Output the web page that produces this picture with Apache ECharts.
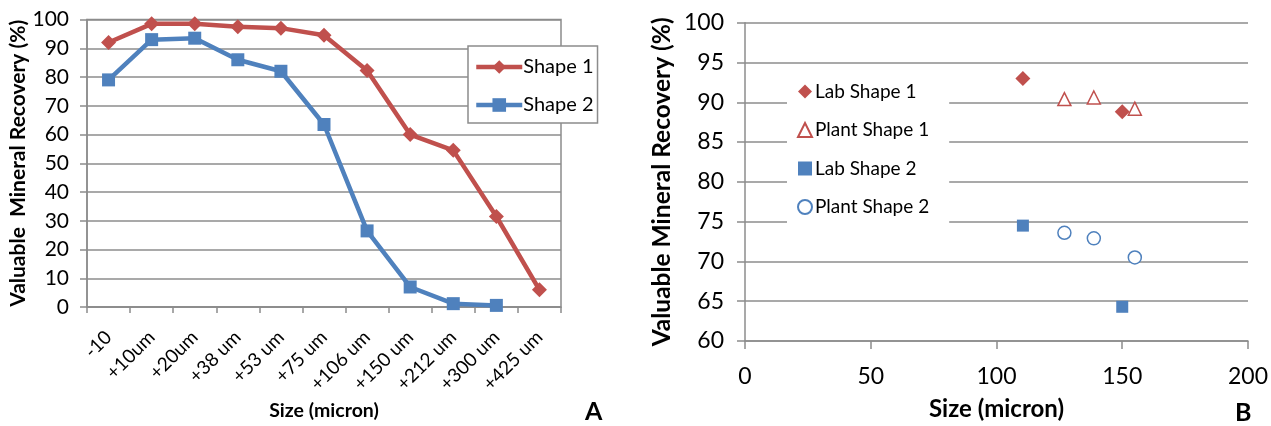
<!DOCTYPE html>
<html>
<head>
<meta charset="utf-8">
<script src="https://cdn.jsdelivr.net/npm/echarts@6/dist/echarts.min.js"></script>
<style>
html,body{margin:0;padding:0;background:#fff;}
#chart{width:1271px;height:426px;}
</style>
</head>
<body>
<div id="chart"></div>
<script>
// ---- Data ----
const sizeCategories = ['-10', '+10um', '+20um', '+38 um', '+53 um', '+75 um', '+106 um', '+150 um', '+212 um', '+300 um', '+425 um'];
const shape1Recovery = [92, 98.5, 98.5, 97.5, 97, 94.5, 82.3, 60, 54.5, 31.5, 6];
const shape2Recovery = [79, 93, 93.5, 86, 82, 63.5, 26.5, 7, 1.2, 0.6, null];

const labShape1 = [[110.5, 93.0], [150, 88.8]];
const plantShape1 = [[127, 90.4], [138.7, 90.6], [155, 89.2]];
const labShape2 = [[110.5, 74.5], [150, 64.3]];
const plantShape2 = [[127, 73.6], [138.7, 72.9], [155, 70.5]];

const RED = '#C0504D';
const BLUE = '#4F81BD';
const GRID = '#8c8c8c';
const FONT = 'Lato';

const chart = echarts.init(document.getElementById('chart'), null, {renderer: 'canvas'});

const option = {
  backgroundColor: '#fff',
  animation: false,
  textStyle: {fontFamily: FONT, color: '#000'},
  title: [
    {text: 'A', left: 580, top: 394, textStyle: {fontFamily: FONT, fontWeight: 'bold', fontSize: 25, color: '#000'}},
    {text: 'B', left: 1230, top: 395, textStyle: {fontFamily: FONT, fontWeight: 'bold', fontSize: 25, color: '#000'}}
  ],
  grid: [
    {left: 87, top: 19.5, width: 474, height: 289.5, show: true, borderColor: GRID, borderWidth: 1.5, containLabel: false},
    {left: 745, top: 22.7, width: 507, height: 320.6, containLabel: false}
  ],
  legend: [
    {
      data: ['Shape 1', 'Shape 2'],
      orient: 'vertical',
      left: 468, top: 46,
      padding: [11, 4, 8, 6],
      itemGap: 18,
      itemWidth: 46, itemHeight: 17,
      backgroundColor: '#fff',
      borderColor: GRID, borderWidth: 1.5,
      lineStyle: {width: 4.5},
      textStyle: {fontFamily: FONT, fontSize: 20, color: '#000', padding: [0, 0, 0, -4]}
    },
    {
      data: ['Lab Shape 1', 'Plant Shape 1', 'Lab Shape 2', 'Plant Shape 2'],
      orient: 'vertical',
      left: 787, top: 70,
      padding: [12, 20, 12, 10],
      itemGap: 19.5,
      itemWidth: 14, itemHeight: 14,
      backgroundColor: '#fff',
      borderWidth: 0,
      textStyle: {fontFamily: FONT, fontSize: 19, color: '#000', padding: [0, 0, 0, -2]}
    }
  ],
  xAxis: [
    {
      gridIndex: 0,
      type: 'category',
      data: sizeCategories,
      boundaryGap: true,
      axisLine: {show: true, lineStyle: {color: GRID, width: 1.5}},
      axisTick: {show: true, length: 6, interval: 0, lineStyle: {color: GRID, width: 1.5}},
      axisLabel: {interval: 0, rotate: 45, fontSize: 19, fontFamily: FONT, color: '#000', margin: 27},
      splitLine: {show: false},
      name: 'Size (micron)',
      nameLocation: 'middle',
      nameGap: 92,
      nameTextStyle: {fontFamily: FONT, fontWeight: 'bold', fontSize: 19.5, color: '#000'}
    },
    {
      gridIndex: 1,
      type: 'value',
      min: 0, max: 200, interval: 50,
      axisLine: {show: true, onZero: false, lineStyle: {color: GRID, width: 1.5}},
      axisTick: {show: true, length: 8, lineStyle: {color: GRID, width: 1.5}},
      axisLabel: {fontSize: 23, fontFamily: FONT, color: '#000', margin: 24},
      splitLine: {show: false},
      name: 'Size (micron)',
      nameLocation: 'middle',
      nameGap: 56,
      nameTextStyle: {fontFamily: FONT, fontWeight: 'bold', fontSize: 24, color: '#000'}
    }
  ],
  yAxis: [
    {
      gridIndex: 0,
      type: 'value',
      min: 0, max: 100, interval: 10,
      axisLine: {show: true, lineStyle: {color: GRID, width: 1.5}},
      axisTick: {show: true, length: 7, lineStyle: {color: GRID, width: 1.5}},
      axisLabel: {fontSize: 21, fontFamily: FONT, color: '#000', margin: 18},
      splitLine: {show: true, lineStyle: {color: GRID, width: 1.5}},
      name: 'Valuable  Mineral Recovery (%)',
      nameLocation: 'middle',
      nameGap: 55,
      nameTextStyle: {fontFamily: FONT, fontWeight: 'bold', fontSize: 21, color: '#000'}
    },
    {
      gridIndex: 1,
      type: 'value',
      min: 60, max: 100, interval: 5,
      axisLine: {show: true, onZero: false, lineStyle: {color: GRID, width: 1.5}},
      axisTick: {show: true, length: 8, lineStyle: {color: GRID, width: 1.5}},
      axisLabel: {fontSize: 23, fontFamily: FONT, color: '#000', margin: 21},
      splitLine: {show: true, lineStyle: {color: GRID, width: 1.5}},
      name: 'Valuable Mineral Recovery (%)',
      nameLocation: 'middle',
      nameGap: 70,
      nameTextStyle: {fontFamily: FONT, fontWeight: 'bold', fontSize: 24.5, color: '#000'}
    }
  ],
  series: [
    {
      name: 'Shape 1', type: 'line', xAxisIndex: 0, yAxisIndex: 0,
      data: shape1Recovery,
      symbol: 'diamond', symbolSize: 15,
      lineStyle: {color: RED, width: 4.5},
      itemStyle: {color: RED},
      z: 3
    },
    {
      name: 'Shape 2', type: 'line', xAxisIndex: 0, yAxisIndex: 0,
      data: shape2Recovery,
      symbol: 'rect', symbolSize: 13,
      lineStyle: {color: BLUE, width: 4.5},
      itemStyle: {color: BLUE},
      z: 2
    },
    {
      name: 'Lab Shape 1', type: 'scatter', xAxisIndex: 1, yAxisIndex: 1,
      data: labShape1, symbol: 'diamond', symbolSize: 15,
      itemStyle: {color: RED, opacity: 1}
    },
    {
      name: 'Plant Shape 1', type: 'scatter', xAxisIndex: 1, yAxisIndex: 1,
      data: plantShape1, symbol: 'triangle', symbolSize: 13,
      itemStyle: {color: '#fff', borderColor: RED, borderWidth: 1.5, opacity: 1}
    },
    {
      name: 'Lab Shape 2', type: 'scatter', xAxisIndex: 1, yAxisIndex: 1,
      data: labShape2, symbol: 'rect', symbolSize: 12,
      itemStyle: {color: BLUE, opacity: 1}
    },
    {
      name: 'Plant Shape 2', type: 'scatter', xAxisIndex: 1, yAxisIndex: 1,
      data: plantShape2, symbol: 'circle', symbolSize: 13,
      itemStyle: {color: '#fff', borderColor: BLUE, borderWidth: 1.5, opacity: 1}
    }
  ]
};
chart.setOption(option);
</script>
</body>
</html>
